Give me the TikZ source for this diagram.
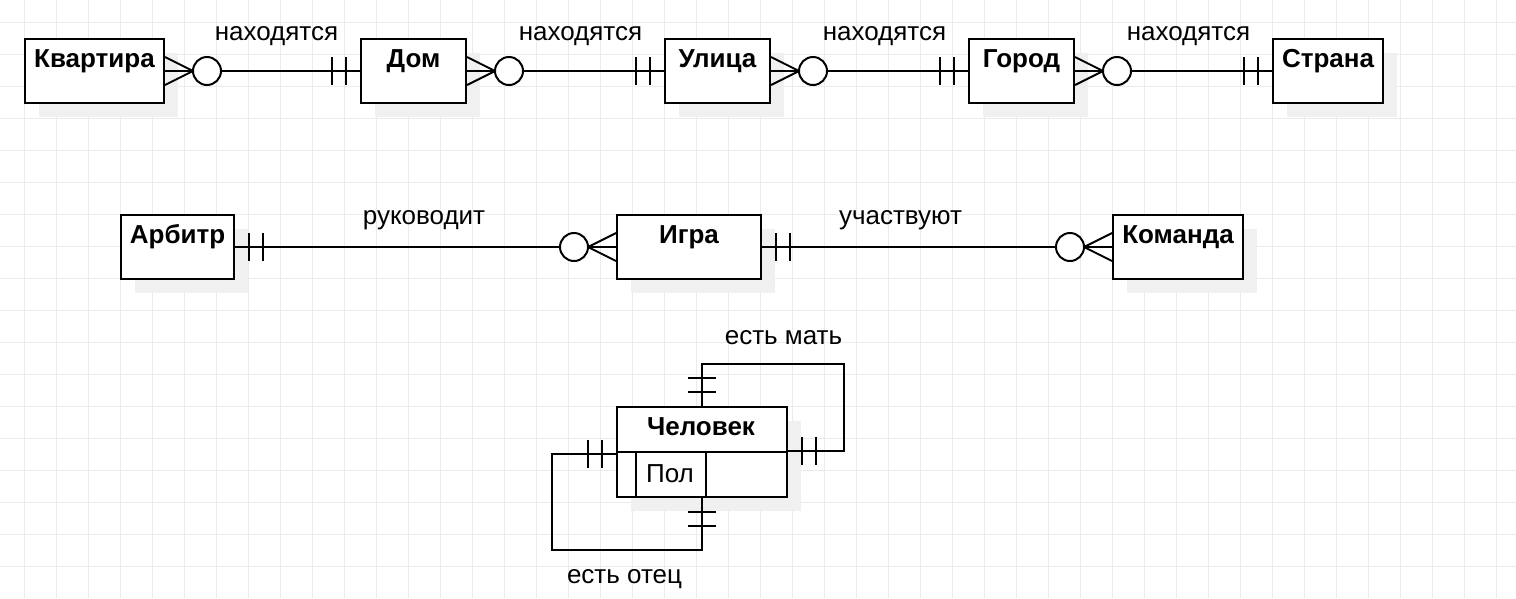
\documentclass[tikz,border=0pt]{standalone}
\usepackage{fontspec}
\setmainfont{Liberation Sans}
\usetikzlibrary{calc,shadows}

\definecolor{gridgray}{HTML}{EBEBEB}
\definecolor{shadegray}{HTML}{F0F0F0}

\tikzset{
  conn/.style={line width=2pt, black},
  entity/.style={draw=black, line width=2pt, fill=white, anchor=north west,
    minimum height=64pt, inner sep=0pt,
    general shadow={fill=shadegray, shadow xshift=14pt, shadow yshift=-14pt}},
  ename/.style={font=\fontsize{26}{30}\selectfont\bfseries, anchor=base, inner sep=0pt},
  rlabel/.style={font=\fontsize{26}{30}\selectfont, anchor=base, inner sep=0pt},
  % zero-or-many end, drawn outward along +x from the entity edge
  manyopt/.pic={
    \draw[conn] (0,-14) -- (28,0) -- (0,14);
    \draw[conn] (0,0) -- (28,0);
    \draw[conn, fill=white] (42,0) circle[radius=14];
  },
  % exactly-one end, drawn outward along +x from the entity edge
  onlyone/.pic={
    \draw[conn] (14,-14) -- (14,14) (28,-14) -- (28,14);
  },
}

\begin{document}
\begin{tikzpicture}[x=1pt, y=-1pt]
  \useasboundingbox[fill=white] (0,0) rectangle (1516,598);

  % background grid
  \foreach \k in {0,...,46} \draw[gridgray, line width=1pt] (24.5+32*\k,0) -- (24.5+32*\k,598);
  \foreach \k in {0,...,17} \draw[gridgray, line width=1pt] (0,22.5+32*\k) -- (1516,22.5+32*\k);

  % --- address chain ---
  \node[entity, minimum width=139pt] (kv)  at (24,38)   {};
  \node[entity, minimum width=105pt] (dom) at (360,38)  {};
  \node[entity, minimum width=105pt] (ul)  at (664,38)  {};
  \node[entity, minimum width=105pt] (gor) at (968,38)  {};
  \node[entity, minimum width=110pt] (str) at (1272,38) {};
  \foreach \n/\t in {kv/Квартира, dom/Дом, ul/Улица, gor/Город, str/Страна}
    \node[ename] (\n-t) at ($(\n.north)+(0,29)$) {\t};

  \foreach \a/\b in {kv/dom, dom/ul, ul/gor, gor/str}{
    \draw[conn] (\a.east) -- (\b.west);
    \pic at (\a.east) {manyopt};
    \pic[rotate=180] at (\b.west) {onlyone};
  }
  \node[rlabel] (l1) at (276.5,40.7)  {находятся};
  \node[rlabel] (l2) at (580.5,40.7)  {находятся};
  \node[rlabel] (l3) at (884.5,40.7)  {находятся};
  \node[rlabel] (l4) at (1188.5,40.7) {находятся};

  % --- match ---
  \node[entity, minimum width=113pt] (arb) at (120,214)  {};
  \node[entity, minimum width=144pt] (igra) at (616,214) {};
  \node[entity, minimum width=130pt] (kom) at (1112,214) {};
  \foreach \n/\t in {arb/Арбитр, igra/Игра, kom/Команда}
    \node[ename] (\n-t) at ($(\n.north)+(0,29)$) {\t};

  \draw[conn] (arb.east) -- (igra.west);
  \pic at (arb.east) {onlyone};
  \pic[rotate=180] at (igra.west) {manyopt};
  \node[rlabel] (l5) at (424,224) {руководит};

  \draw[conn] (igra.east) -- (kom.west);
  \pic at (igra.east) {onlyone};
  \pic[rotate=180] at (kom.west) {manyopt};
  \node[rlabel] (l6) at (900.5,224) {участвуют};

  % --- person table ---
  \node[entity, minimum width=170pt, minimum height=90pt] (person) at (616,406) {};
  \draw[conn] ($(person.north west)+(0,46)$) -- ($(person.north east)+(0,46)$);
  \draw[line width=2pt] ($(person.north west)+(20,46)$) -- ($(person.south west)+(20,0)$);
  \draw[line width=1.5pt] ($(person.north west)+(90,46)$) -- ($(person.south west)+(90,0)$);
  \node[ename] (person-t) at (701,435) {Человек};
  \node[rlabel] (pol) at (670,482) {Пол};

  % attachment points of the two self relations on the table sides
  \coordinate (pe) at ($(person.east)+(0,-1.5)$);
  \coordinate (pw) at ($(person.west)+(0,2)$);

  % mother: self relation over the top-right corner
  \coordinate (mloop) at (844,364);
  \draw[conn] (person.north) |- (mloop) |- (pe);
  \pic[rotate=90] at (person.north) {onlyone};
  \pic at (pe) {onlyone};
  \node[rlabel] (l7) at (783.5,344) {есть мать};

  % father: self relation under the bottom-left corner
  \coordinate (floop) at (552,550);
  \draw[conn] (pw) -| (floop) -| (person.south);
  \pic[rotate=180] at (pw) {onlyone};
  \pic[rotate=-90] at (person.south) {onlyone};
  \node[rlabel] (l8) at (624.5,583.3) {есть отец};
\end{tikzpicture}
\end{document}
